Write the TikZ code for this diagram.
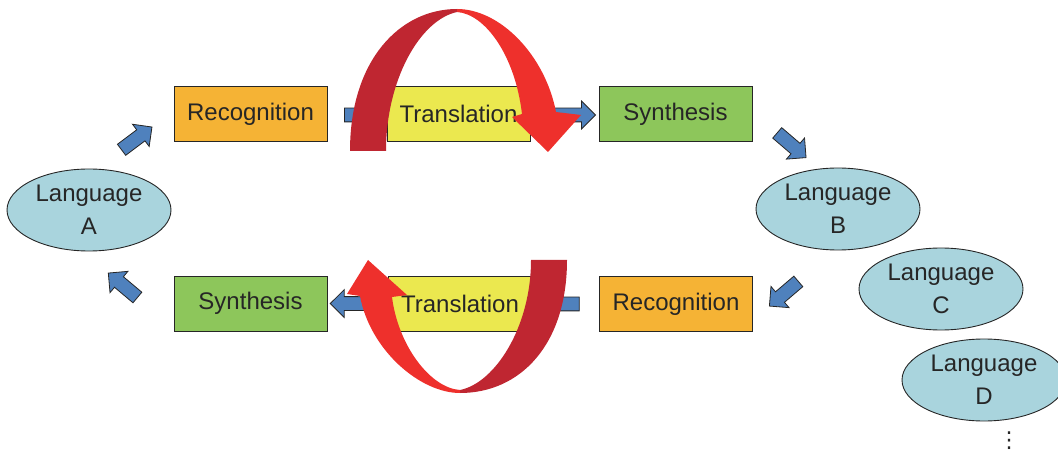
\documentclass[tikz,border=0pt]{standalone}
\usepackage{fontspec}
\setmainfont{Liberation Sans}
\newfontfamily\symbolfont{DejaVu Sans}
\usetikzlibrary{shapes.geometric,shapes.arrows}

\definecolor{recogfill}{HTML}{F5B335}
\definecolor{transfill}{HTML}{EBE84F}
\definecolor{synthfill}{HTML}{8DC65B}
\definecolor{langfill}{HTML}{A9D4DD}
\definecolor{flowblue}{HTML}{4F81BD}
\definecolor{ribbonred}{HTML}{EE302C}
\definecolor{ribbondark}{HTML}{BF2631}
\definecolor{inkline}{HTML}{262626}

\pgfdeclarelayer{behind}
\pgfsetlayers{behind,main}

\begin{document}
\begin{tikzpicture}[x=1pt,y=-1pt,
  procbox/.style={draw=inkline, line width=0.9pt, fill=#1, minimum width=153pt,
    minimum height=55pt, inner sep=0pt, text=inkline, font=\fontsize{24}{29}\selectfont},
  langnode/.style={ellipse, draw=inkline, line width=0.9pt, fill=langfill,
    minimum width=164pt, minimum height=82pt, inner sep=0pt, align=center,
    text=inkline, font=\fontsize{24}{33}\selectfont},
  blockarrow/.style={single arrow, draw=inkline, line width=0.8pt, fill=flowblue,
    inner xsep=0pt, inner ysep=6.5pt, single arrow head extend=7pt,
    single arrow tip angle=90, single arrow head indent=0pt,
    minimum height=#1, sloped, allow upside down},
  blockarrow/.default=38pt]

\useasboundingbox (0,0) rectangle (1058,457);
\clip (0,0) rectangle (1058,457);

% process boxes
\node[procbox=recogfill] (rec1) at (250.5,114) {Recognition};
\node[procbox=transfill, minimum width=143pt] (tr1) at (458.5,114) {Translation};
\node[procbox=synthfill] (syn1) at (675.5,114) {Synthesis};
\node[procbox=synthfill] (syn2) at (250.5,303.5) {Synthesis};
\node[procbox=transfill, minimum width=143pt] (tr2) at (460,303.5) {Translation};
\node[procbox=recogfill] (rec2) at (676,304) {Recognition};

% languages
\node[langnode] (langA) at (89,210) {Language\\A};
\node[langnode] (langB) at (838,209) {Language\\B};
\node[langnode] (langC) at (941,289) {Language\\C};
\node[langnode] (langD) at (984,380) {Language\\D};
\node[text=inkline, font=\symbolfont\fontsize{22}{26}\selectfont, inner sep=0pt]
  (more) at (1009,441) {⋮};

% horizontal flow arrows, passing behind the translation boxes
\coordinate (h1tail) at ([xshift=14pt,yshift=-1pt]rec1.east);
\coordinate (h1tip) at ([xshift=-7pt,yshift=-1pt]syn1.west);
\coordinate (h2tail) at ([xshift=-17pt]rec2.west);
\coordinate (h2tip) at ([xshift=7pt]syn2.east);
\begin{pgfonlayer}{behind}
  \path (h1tail) -- node[blockarrow=251pt] {} (h1tip);
  \path (h2tail) -- node[blockarrow=249pt] {} (h2tip);
\end{pgfonlayer}

% diagonal flow arrows
\coordinate (d1tail) at (120,151);  \coordinate (d1tip) at (148,130);
\coordinate (d2tail) at (775,131);  \coordinate (d2tip) at (803,155);
\coordinate (d3tail) at (800,280);  \coordinate (d3tip) at (773,303);
\coordinate (d4tail) at (138,298);  \coordinate (d4tip) at (113,277);
\path (d1tail) -- node[blockarrow] {} (d1tip);
\path (d2tail) -- node[blockarrow] {} (d2tip);
\path (d3tail) -- node[blockarrow] {} (d3tip);
\path (d4tail) -- node[blockarrow] {} (d4tip);

% upper ribbon: rises over the top translation box and comes down to the right
\fill[ribbondark] (350,151) .. controls (350,60) and (400,9) .. (457,9)
  -- (457,12) .. controls (420,20) and (386,80) .. (386,151) -- cycle;
\fill[ribbonred] (457,9) .. controls (500,9) and (545,55) .. (556,112)
  -- (581,115) -- (548,152) -- (512,117) -- (522,114)
  .. controls (515,55) and (485,14) .. (457,12) -- cycle;

% lower ribbon: dips under the bottom translation box and comes up to the left
\fill[ribbondark] (567,260) .. controls (567,345) and (520,393) .. (460,393)
  -- (460,390) .. controls (495,383) and (531,327) .. (531,260) -- cycle;
\fill[ribbonred] (460,393) .. controls (420,393) and (370,350) .. (360,296)
  -- (347,294) -- (368,260) -- (407,295) -- (392,297)
  .. controls (398,345) and (430,388) .. (460,390) -- cycle;

\end{tikzpicture}
\end{document}
